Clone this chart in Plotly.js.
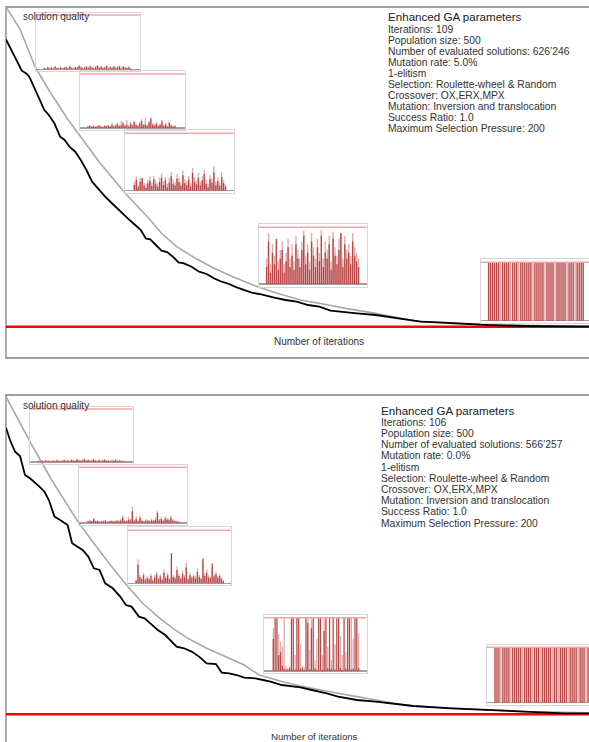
<!DOCTYPE html>
<html><head><meta charset="utf-8">
<script src="https://cdn.plot.ly/plotly-3.0.1.min.js"></script>
<style>html,body{margin:0;padding:0;background:#fff}#chart{width:589px;height:742px}</style>
</head><body><div id="chart"></div>
<script>
// ---------------- DATA ----------------
const optimum = 0;
const run1Iterations = 109;
const run2Iterations = 106;
const insetMax = 200;

// Run 1 (mutation 5.0%)
const run1BestIter = [0,0.98,2.04,2.95,3.79,4.36,5.2,6.25,7.17,8.01,9.06,10.12,10.96,11.87,12.93,13.98,15.03,16.09,17.28,18.54,19.95,21.35,22.76,24.16,25.21,26.13,26.97,28.02,29.08,30.13,31.19,32.24,33.29,34.7,36.1,37.51,38.91,40.32,41.72,43.13,44.53,45.93,47.34,48.74,50.15,52.26,54.36,56.47,58.58,60.68,62.79,65.6,69.11,71.92,74.73,77.54,81.75,86.67,90.18,97.21,104.23,109];
const run1Best = [287.3,276.7,266.7,256,253.3,250,240,228.3,216.7,211.7,203.3,190,186.7,180,175,166.7,156.7,145,137.3,130,122.7,115,108.3,101.7,96.7,88.3,87.3,81.7,76,74.7,70,64.3,63.3,60,55,52.7,48.3,45,42.7,39.3,36.7,34,32.7,30.7,29,26.7,25,21.7,20,16,14.7,13.3,11.7,9.3,6.7,5,4,2.7,1.7,0.7,0,0];
const run1AvgIter = [0,2.62,5.42,8.23,11.65,13.83,17.57,22.25,26.98,29.07,31.9,35.4,38.91,42.42,46.64,50.85,55.06,59.28,63.49,69.11,72.62,76.13,83.16,90.18,104.23,109];
const run1Avg = [319.7,297.7,260,234.7,206.7,190.7,163.7,133.7,106.7,93.4,80,68.4,58.4,50,40.7,33.3,26.7,22.7,18.3,13.3,9.3,6,3.3,1.7,0.7,0.3];

// Run 2 (mutation 0.0%)
const run2BestIter = [0,0.73,1.64,2.55,3.45,4.36,6.08,6.97,7.79,8.81,9.84,11.2,12.02,12.91,13.93,14.96,15.98,17.01,18.03,19.4,20.77,21.79,22.82,24.18,25.21,26.23,27.6,28.96,31.01,32.38,33.74,35.11,36.48,38.18,39.21,40.57,41.94,43.31,45.35,46.72,48.09,50.14,52.18,53.55,55.6,58.33,60.38,63.8,67.21,70.63,74.04,80.87,87.7,94.53,101.36,106];
const run2Best = [286.6,274.3,262.6,258.3,239.3,236,227.7,222.7,214.3,197.7,194.3,189.3,171,167.7,164.3,157.7,146,144.3,131,126,117.7,109.3,107.7,97.7,96,91,84.3,79.3,67.7,66,62.7,57.7,51,50.3,41.7,41,39.3,36.7,36,34.3,32.7,29.3,28.3,27,24.3,21,17.7,14.3,12.7,10.3,8.3,6,4.3,2.7,1,1];
const run2AvgIter = [0,4.36,8.31,13.25,15.98,18.72,22.13,24.86,27.6,30.33,33.06,36.48,39.89,43.31,46.04,50.14,53.55,56.97,60.38,63.8,67.21,70.63,74.04,80.87,87.7,94.53,101.36,106];
const run2Avg = [317.6,272.6,234.3,191,171,151,127.7,111,97.7,86,76,66,57.7,49.3,39.3,32.7,28.3,24.3,21,17.7,14.3,11,8.3,6,4.3,2.7,1.7,1.5];

// Selection pressure snapshots (dark = selected, light = candidates)
const r1s1Dark  = [5,3,8,4,6,3,9,5,4,7,3,6,8,4,10,5,3,7,6,12,8,4,6,9,5,11,7,4,8,13,6,9,5,7,12,4,8,6,10,5,7,11,4,9,6,5,8,3];
const r1s1Light = [7,5,10,6,9,5,12,8,6,10,5,9,11,6,14,8,5,10,9,16,11,6,9,12,8,14,10,6,11,16,9,12,8,10,15,6,11,9,13,8,10,14,6,12,9,7,11,5];
const r1s2Dark  = [6,8,5,7,4,6,9,5,4,7,6,8,5,12,6,9,14,7,10,18,8,12,6,15,9,22,11,7,16,26,10,13,8,20,34,12,9,16,7,11,24,8,13,6,19,9,5,7];
const r1s2Light = [8,10,7,12,6,9,11,8,6,10,9,12,8,18,10,14,20,11,26,24,12,30,9,22,14,28,16,11,24,32,15,36,12,26,40,18,14,22,10,16,30,12,20,9,24,14,8,10];
const r1s3Dark  = [20,38,12,30,44,18,10,26,34,16,40,22,14,30,46,20,36,12,28,50,24,18,42,30,16,54,26,20,38,14,62,30,22,44,18,36,58,24,12,40,28,64,20,34,16,48,26,14];
const r1s3Light = [30,50,20,44,40,28,24,38,50,30,52,36,26,46,60,34,48,24,44,64,40,30,58,46,28,70,40,34,52,26,80,48,36,62,30,50,72,38,24,56,42,86,32,48,28,64,36,22];
const r1s4Dark  = [60,150,40,110,70,160,50,90,120,40,80,130,60,100,50,140,90,60,120,170,70,110,50,150,100,60,130,80,170,60,110,90,140,50,160,100,70,120,180,60,140,90,110,70,150,100,80,60];
const r1s4Light = [90,180,70,140,100,130,80,120,150,70,110,160,90,140,80,170,120,90,150,190,100,140,80,180,130,90,160,110,190,90,150,120,170,80,185,130,100,160,175,90,170,120,140,100,180,130,110,90];
const r1s5Dark  = [200,200,200,200,200,200,0,200,200,200,200,0,200,200,200,0,200,200,200,200,200,200,0,200,200,200,200,200,0,200,200,200,200,0,200,200,200,200,200,0,200,200,200,0,200,200,200,200];
const r1s5Light = [0,0,0,0,0,0,200,0,0,0,0,200,0,0,0,200,0,0,0,0,0,0,200,0,0,0,0,0,200,0,0,0,0,200,0,0,0,0,0,200,0,0,0,200,0,0,0,0];

const r2s1Dark  = [4,3,5,2,6,3,4,2,5,3,6,4,3,5,7,4,6,3,8,5,4,9,6,4,7,10,5,8,4,6,9,5,4,7,3,6,8,4,5,3,6,4,7,3,5,4,3,2];
const r2s1Light = [7,6,8,5,9,6,7,5,8,6,9,7,6,8,10,7,9,6,11,8,7,12,9,7,10,13,8,11,7,9,12,8,7,10,6,9,11,7,8,6,9,7,10,6,8,7,6,5];
const r2s2Dark  = [6,8,5,14,6,7,4,5,6,8,4,5,7,6,5,8,6,9,20,7,6,12,10,42,8,14,6,18,7,5,9,8,6,10,7,12,36,9,14,8,16,12,10,18,9,7,5,4];
const r2s2Light = [8,12,7,20,9,10,6,8,9,12,6,8,10,9,8,12,9,14,26,11,9,22,16,58,12,24,9,28,11,8,14,12,9,16,11,20,42,14,22,12,24,18,16,26,14,10,8,6];
const r2s3Dark  = [10,70,24,16,30,12,20,14,28,10,22,34,16,26,12,40,20,30,14,113,24,18,50,28,16,36,22,60,14,30,20,26,18,44,24,16,94,28,40,22,18,75,26,34,20,28,16,8];
const r2s3Light = [14,90,32,22,40,18,28,20,36,16,30,44,22,34,18,52,28,40,20,100,32,26,64,36,22,48,30,78,20,40,28,34,26,56,32,22,80,36,52,30,26,60,34,44,28,36,22,12];
const r2s4Dark  = [120,200,200,60,70,20,8,6,5,10,200,200,6,200,200,8,10,4,200,180,6,160,200,8,5,200,200,6,150,200,10,200,8,200,6,200,200,10,4,200,8,200,200,6,8,200,200,10];
const r2s4Light = [160,0,0,140,110,90,200,20,12,18,0,0,60,0,0,100,20,14,0,200,80,200,0,40,120,0,0,60,200,0,90,0,40,0,100,0,0,130,60,0,70,0,0,200,120,0,0,140];
const r2s5Dark  = [200,200,200,0,200,200,200,200,0,200,200,200,200,200,0,200,200,200,200,0,200,200,200,0,200,200,200,200,200,0,200,200,0,200,200,200,200,0,200,200,200,200,0,200,200,200,0,200];
const r2s5Light = [0,0,0,200,0,0,0,0,200,0,0,0,0,0,200,0,0,0,0,200,0,0,0,200,0,0,0,0,0,200,0,0,200,0,0,0,0,200,0,0,0,0,200,0,0,0,200,0];

const paramTitle = "Enhanced GA parameters";
const run1Params = ["Iterations: 109","Population size: 500","Number of evaluated solutions: 626\u2019246","Mutation rate: 5.0%","1-elitism","Selection: Roulette-wheel & Random","Crossover: OX,ERX,MPX","Mutation: Inversion and translocation","Success Ratio: 1.0","Maximum Selection Pressure: 200"];
const run2Params = ["Iterations: 106","Population size: 500","Number of evaluated solutions: 566\u2019257","Mutation rate: 0.0%","1-elitism","Selection: Roulette-wheel & Random","Crossover: OX,ERX,MPX","Mutation: Inversion and translocation","Success Ratio: 1.0","Maximum Selection Pressure: 200"];
const yLabel = "solution quality";
const xLabel = "Number of iterations";

// ---------------- LAYOUT / POSITIONS (px) ----------------
const W = 589, H = 742;
const FONT = "Liberation Sans, Arial, sans-serif";
// [left, right, top, bottom, baseline, redline, barsLeft, barsRight]
const insetBoxes = [
  [36.4,139.7,12.7,70.7,69.3,15,43.2,131.5],
  [80,184.8,71,130,128,74,87,175.8],
  [125,233.7,130,192.7,190.7,133.3,133.4,226.5],
  [258.5,366.6,224.3,286.7,284,227.3,265.6,359.5],
  [480.8,600,259.3,323.3,320.7,262.3,487.6,584.2],
  [30,132.6,406.7,464,462,409,37.6,125.8],
  [78.9,186.7,465,525,523,467.3,87,179.6],
  [128.1,230.7,527.3,585,583.3,530.3,135.2,224.3],
  [264,366.6,615.3,673.3,671,617.7,272.4,359.5],
  [486.9,600,645,705,702.7,647.3,494,589]
];
const insetData = [
  [r1s1Dark,r1s1Light],[r1s2Dark,r1s2Light],[r1s3Dark,r1s3Light],[r1s4Dark,r1s4Light],[r1s5Dark,r1s5Light],
  [r2s1Dark,r2s1Light],[r2s2Dark,r2s2Light],[r2s3Dark,r2s3Light],[r2s4Dark,r2s4Light],[r2s5Dark,r2s5Light]
];

const traces = [];
const layout = {
  width: W, height: H, margin: {l:0,r:0,t:0,b:0},
  paper_bgcolor: '#ffffff', plot_bgcolor: 'rgba(0,0,0,0)',
  showlegend: false, barmode: 'overlay', bargap: 0.3,
  shapes: [], annotations: [],
  xaxis:  {domain:[6/W,1], range:[0,run1Iterations], visible:false, fixedrange:true},
  yaxis:  {domain:[1-358/H,1-7/H], range:[-31.3,319.7], visible:false, fixedrange:true},
  xaxis2: {domain:[6/W,1], range:[0,run2Iterations], visible:false, fixedrange:true, anchor:'y2'},
  yaxis2: {domain:[0,1-395/H], range:[714.3-742,714.3-395], visible:false, fixedrange:true, anchor:'x2'}
};

// main curves
[[run1BestIter,run1Best,run1AvgIter,run1Avg,run1Iterations,'x','y'],
 [run2BestIter,run2Best,run2AvgIter,run2Avg,run2Iterations,'x2','y2']].forEach(p => {
  traces.push({type:'scatter',mode:'lines',x:[0,p[4]],y:[optimum,optimum],xaxis:p[5],yaxis:p[6],
    line:{color:'#ff0000',width:2.6},hoverinfo:'skip',cliponaxis:false});
  traces.push({type:'scatter',mode:'lines',x:p[2],y:p[3],xaxis:p[5],yaxis:p[6],
    line:{color:'#a8a8a8',width:1.6},hoverinfo:'skip'});
  traces.push({type:'scatter',mode:'lines',x:p[0],y:p[1],xaxis:p[5],yaxis:p[6],
    line:{color:'#000000',width:1.8},hoverinfo:'skip'});
});

// frames
layout.shapes.push({type:'rect',xref:'paper',yref:'paper',x0:6/W,x1:1.05,y0:1-358/H,y1:1-7/H,line:{color:'#808080',width:1.3},layer:'below'});
layout.shapes.push({type:'rect',xref:'paper',yref:'paper',x0:6/W,x1:1.05,y0:-0.05,y1:1-395/H,line:{color:'#808080',width:1.3},layer:'below'});

// insets
insetBoxes.forEach((b, i) => {
  const k = i + 3;
  const [l, r, t, bt, base, red, bl, br] = b;
  const rEff = Math.min(r, W);
  const dark = insetData[i][0], light = insetData[i][1];
  const n = dark.length;
  const ppx = (br - bl) / n;
  const ppu = (base - red) / insetMax;
  const openRight = r > W;
  layout['xaxis'+k] = {domain:[l/W, rEff/W], anchor:'y'+k,
    range:[-0.5-(bl-l)/ppx, n-0.5+(rEff-br)/ppx],
    showline:true, mirror:true, linecolor:'#d6d6d6', linewidth:1,
    showticklabels:false, ticks:'', showgrid:false, zeroline:false, fixedrange:true};
  layout['yaxis'+k] = {domain:[1-bt/H, 1-t/H], anchor:'x'+k,
    range:[-(bt-base)/ppu, insetMax+(red-t)/ppu],
    showline:true, mirror: openRight ? false : true, linecolor:'#d6d6d6', linewidth:1,
    showticklabels:false, ticks:'', showgrid:false,
    zeroline:true, zerolinecolor:'#a0a0a0', zerolinewidth:1.5, fixedrange:true};
  const xs = dark.map((_, j) => j);
  traces.push({type:'bar', x:xs, y:light, xaxis:'x'+k, yaxis:'y'+k,
    marker:{color:'#e2aaaa',line:{width:0}}, hoverinfo:'skip'});
  traces.push({type:'bar', x:xs, y:dark, xaxis:'x'+k, yaxis:'y'+k,
    marker:{color:'#b84646',line:{width:0}}, hoverinfo:'skip'});
  layout.shapes.push({type:'line', xref:'x'+k+' domain', x0:0, x1:1, yref:'y'+k, y0:insetMax, y1:insetMax,
    line:{color:'#f5a5a5', width:1.5}});
});

// text
function ann(text, px, py, size, anchor, color) {
  layout.annotations.push({text:text, xref:'paper', yref:'paper', x:px/W, y:1-py/H,
    xanchor:anchor, yanchor:'middle', showarrow:false,
    font:{family:FONT, size:size, color:color||'#333333'}});
}
ann(yLabel, 20.5, 16, 10, 'left');
ann(yLabel, 20.5, 405, 10, 'left');
ann(xLabel, 319, 341.7, 10, 'center');
ann(xLabel, 314.8, 736.2, 9.6, 'center');
ann(paramTitle, 386, 16.7, 11.6, 'left', '#222222');
run1Params.forEach((s, j) => ann(s, 386, 29.3 + 11.0*j, 10.3, 'left'));
ann(paramTitle, 379.3, 410, 11.6, 'left', '#222222');
run2Params.forEach((s, j) => ann(s, 379.3, 422.3 + 11.2*j, 10.3, 'left'));

Plotly.newPlot('chart', traces, layout, {displayModeBar:false, staticPlot:true});
</script></body></html>
